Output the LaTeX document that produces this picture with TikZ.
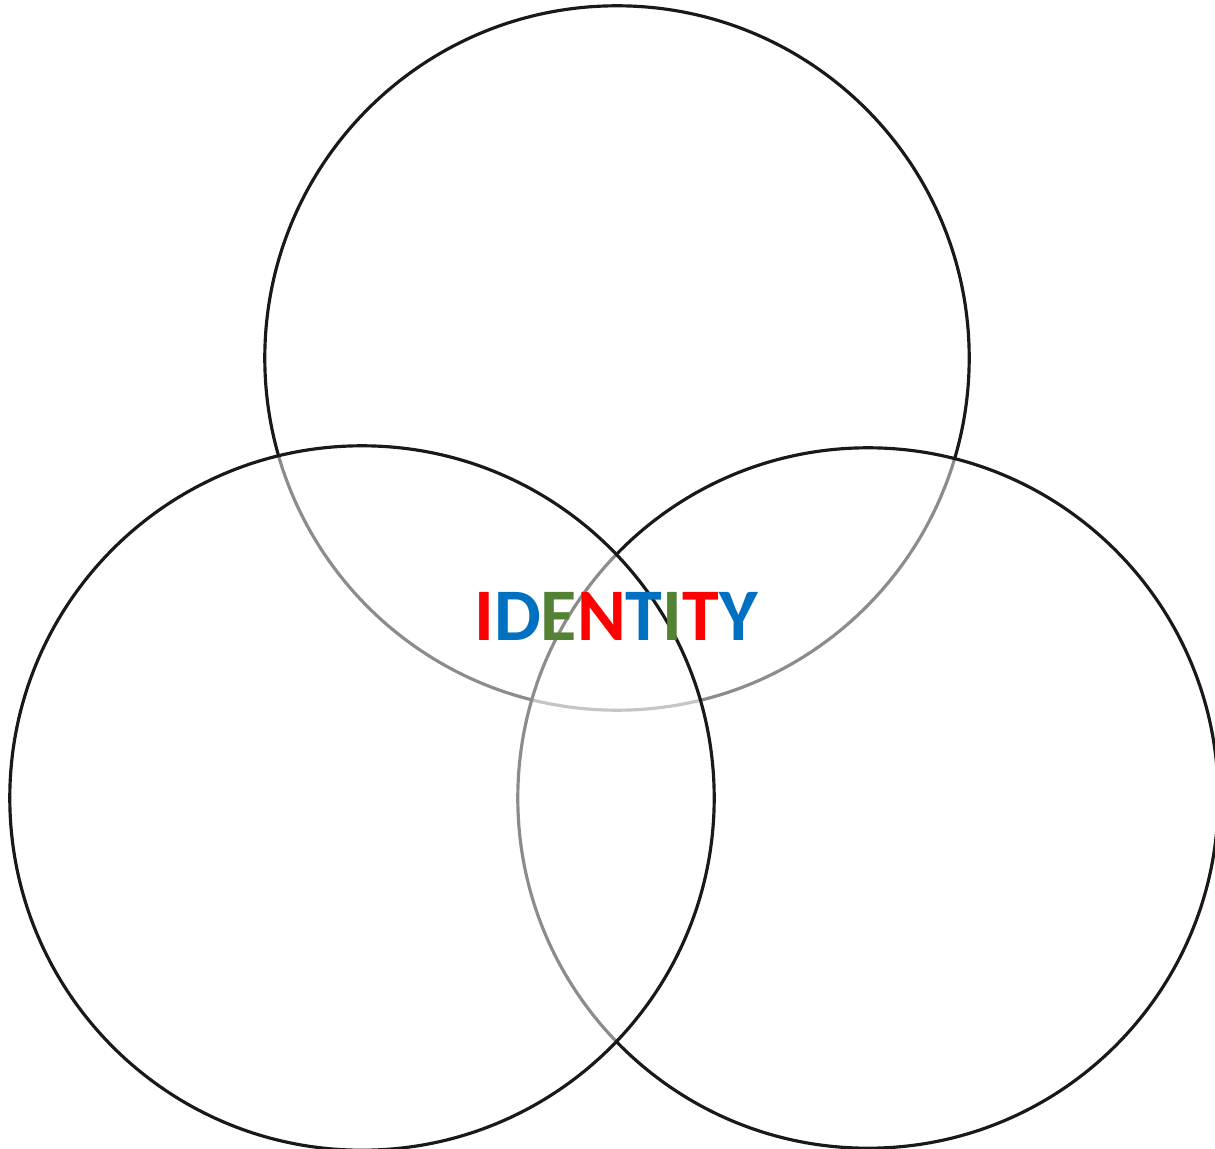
\documentclass[tikz,border=0pt]{standalone}
\usepackage{fontspec}
\setmainfont{Carlito}
\usetikzlibrary{positioning}
\definecolor{idred}{RGB}{255,0,0}
\definecolor{idblue}{RGB}{0,112,192}
\definecolor{idgreen}{RGB}{84,130,53}
\begin{document}
\begin{tikzpicture}[x=0.01cm, y=-0.01cm, font=\bfseries\fontsize{21.1}{24}\selectfont,
    ring/.style={draw=black!90, line width=0.9pt, fill=white, fill opacity=0.5, draw opacity=1}]
        \useasboundingbox (0,0) rectangle (1215,1149);
        \fill[white] (0,0) rectangle (1215,1149);
        % top, right, then left on top of both
        \draw[ring] (617,358) circle (3.52cm);
        \draw[ring] (868,798) circle (3.50cm);
        \draw[ring] (362,798) circle (3.52cm);
        \node (identity) at (616,616) {\textcolor{idred}{I}\textcolor{idblue}{D}\textcolor{idgreen}{E}\textcolor{idred}{N}\textcolor{idblue}{T}\textcolor{idgreen}{I}\textcolor{idred}{T}\textcolor{idblue}{Y}};
      \end{tikzpicture}
\end{document}
